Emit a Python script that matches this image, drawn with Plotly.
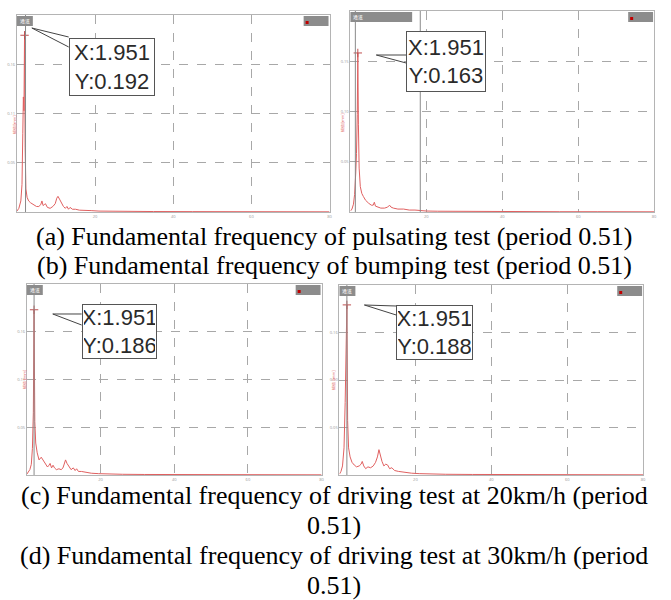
import plotly.graph_objects as go

W, H = 671, 600

# ---------------- data ----------------
freq_a = [0, 0.5, 1.0, 1.3, 1.5, 1.65, 1.8, 1.951, 2.1, 2.3, 2.6, 3.0, 3.5, 4.2, 5.0, 5.6, 6.1, 6.4, 6.7, 7.0, 7.3,
          7.8, 8.5, 9.2, 9.8, 10.2, 10.5, 10.9, 11.3, 11.9, 12.4, 12.8, 13.2, 13.6, 14.2, 15, 16, 17.5, 19, 21, 24,
          28, 35, 45, 55, 65, 80]
amp_a = [0.001, 0.004, 0.012, 0.03, 0.085, 0.125, 0.11, 0.192, 0.07, 0.025, 0.016, 0.012, 0.01, 0.008, 0.006,
         0.006, 0.008, 0.012, 0.007, 0.008, 0.009, 0.005, 0.004, 0.006, 0.009, 0.015, 0.017, 0.014, 0.01, 0.006,
         0.004, 0.006, 0.003, 0.005, 0.003, 0.003, 0.002, 0.002, 0.0015, 0.001, 0.0008, 0.0006, 0.0005, 0.0004,
         0.0003, 0.0003, 0.0002]

freq_b = [0, 0.4, 0.8, 1.1, 1.4, 1.6, 1.8, 1.951, 2.1, 2.3, 2.6, 3.0, 3.4, 4.0, 4.8, 5.5, 6.0, 6.3, 6.6, 7.2, 8.0,
          9.0, 9.8, 10.3, 10.7, 11.3, 12.5, 14, 15.5, 17, 18.4, 20, 23, 28, 35, 45, 55, 65, 80]
amp_b = [0.001, 0.003, 0.008, 0.018, 0.04, 0.06, 0.1, 0.163, 0.09, 0.045, 0.026, 0.019, 0.016, 0.012, 0.009,
         0.007, 0.007, 0.01, 0.006, 0.005, 0.004, 0.004, 0.005, 0.007, 0.005, 0.004, 0.003, 0.003, 0.002, 0.002,
         0.0015, 0.001, 0.0008, 0.0006, 0.0005, 0.0004, 0.0003, 0.0003, 0.0002]

freq_c = [0, 0.4, 0.8, 1.2, 1.5, 1.75, 1.951, 2.15, 2.4, 2.8, 3.3, 3.9, 4.5, 5.1, 5.6, 6.0, 6.3, 6.7, 7.1, 7.5, 8.0,
          8.7, 9.3, 9.8, 10.2, 10.5, 10.9, 11.4, 12.0, 12.6, 13.1, 13.5, 14.0, 14.8, 16, 17.5, 19.5, 22, 26, 32,
          40, 50, 60, 70, 80]
amp_c = [0.001, 0.003, 0.006, 0.012, 0.03, 0.07, 0.186, 0.06, 0.036, 0.025, 0.017, 0.02, 0.016, 0.012, 0.009,
         0.011, 0.013, 0.008, 0.011, 0.008, 0.006, 0.007, 0.006, 0.008, 0.012, 0.017, 0.013, 0.009, 0.006, 0.008,
         0.005, 0.007, 0.004, 0.004, 0.003, 0.002, 0.0015, 0.001, 0.0008, 0.0006, 0.0005, 0.0004, 0.0003, 0.0003,
         0.0002]

freq_d = [0, 0.4, 0.8, 1.2, 1.5, 1.7, 1.951, 2.15, 2.4, 2.8, 3.3, 3.9, 4.5, 5.2, 5.7, 6.0, 6.4, 6.9, 7.5, 8.2, 8.9,
          9.5, 10.0, 10.4, 10.8, 11.2, 11.7, 12.2, 12.7, 13.2, 13.8, 14.5, 15.5, 17, 19, 21, 24, 28, 35, 45, 55,
          65, 80]
amp_d = [0.001, 0.004, 0.01, 0.03, 0.08, 0.115, 0.188, 0.06, 0.03, 0.02, 0.014, 0.011, 0.009, 0.01, 0.012, 0.015,
         0.01, 0.007, 0.009, 0.008, 0.01, 0.014, 0.02, 0.028, 0.02, 0.015, 0.01, 0.012, 0.011, 0.007, 0.008, 0.005,
         0.004, 0.003, 0.002, 0.0015, 0.001, 0.0008, 0.0006, 0.0005, 0.0004, 0.0003, 0.0002]

peak_x = [1.951, 1.951, 1.951, 1.951]
peak_y = [0.192, 0.163, 0.186, 0.188]
cursor_x = [[2.2], [1.3, 18.4], [1.951], [1.951]]
x_ticks = [0, 20, 40, 60, 80]
x_tick_labels = ["0", "20", "40", "60", "80"]

captions_top = ["(a) Fundamental frequency of pulsating test (period 0.51)",
                "(b) Fundamental frequency of bumping test (period 0.51)"]
captions_bottom = ["(c) Fundamental frequency of driving test at 20km/h (period",
                   "0.51)",
                   "(d) Fundamental frequency of driving test at 30km/h (period",
                   "0.51)"]

series = [(freq_a, amp_a), (freq_b, amp_b), (freq_c, amp_c), (freq_d, amp_d)]

# ---------------- layout geometry (pixels) ----------------
panels = [dict(x0=17, x1=331, y0=15, y1=212),
          dict(x0=352, x1=657, y0=11, y1=212),
          dict(x0=27, x1=323, y0=284, y1=475),
          dict(x0=341, x1=646, y0=285, y1=475)]
y_tops = [0.214, 0.206, 0.215, 0.21]
boxes = [dict(x0=69, y0=38, x1=155, y1=96, tip=(32, 28), a1=(69, 37), a2=(69, 47)),
         dict(x0=408, y0=31, x1=488, y1=92, tip=(378, 55), a1=(408, 55), a2=(408, 63)),
         dict(x0=82, y0=304, x1=157, y1=359, tip=(53, 314), a1=(82, 314), a2=(82, 325)),
         dict(x0=398, y0=305, x1=475, y1=360, tip=(366, 305), a1=(398, 306), a2=(398, 315))]


def PX(px):
    return px / W


def PY(py):
    return 1 - py / H


fig = go.Figure()
layout = dict(width=W, height=H, margin=dict(l=0, r=0, t=0, b=0),
              paper_bgcolor="white", plot_bgcolor="white", showlegend=False)
shapes = []
annotations = []

for i, ((fx, fy), p) in enumerate(zip(series, panels)):
    n = "" if i == 0 else str(i + 1)
    xa, ya = "x" + n, "y" + n
    top = y_tops[i]
    layout["xaxis" + n] = dict(domain=[PX(p["x0"]), PX(p["x1"])], range=[0, 80], anchor=ya,
                               tickvals=x_ticks[1:], ticktext=x_tick_labels[1:],
                               showgrid=True, griddash="dash", gridcolor="#a8a8a8", gridwidth=1,
                               showline=True, linecolor="#b4b4b4", linewidth=1, mirror=True,
                               zeroline=False, ticks="", tickfont=dict(size=4, color="#999"))
    yt = [top / 4 * k for k in (1, 2, 3)]
    layout["yaxis" + n] = dict(domain=[PY(p["y1"]), PY(p["y0"])], range=[0, top], anchor=xa,
                               tickvals=yt, ticktext=["%.2f" % v for v in yt],
                               showgrid=True, griddash="dash", gridcolor="#a8a8a8", gridwidth=1,
                               showline=True, linecolor="#b4b4b4", linewidth=1, mirror=True,
                               zeroline=False, ticks="", tickfont=dict(size=4, color="#999"))
    # cursor lines
    for cx in cursor_x[i]:
        shapes.append(dict(type="line", xref=xa, yref=ya + " domain", x0=cx, x1=cx, y0=0, y1=1,
                           line=dict(color="#8a8a8a", width=1)))
    fig.add_trace(go.Scatter(x=fx, y=fy, mode="lines", xaxis=xa, yaxis=ya,
                             line=dict(color="#e06060", width=1)))
    fig.add_trace(go.Scatter(x=[peak_x[i]], y=[peak_y[i]], mode="markers", xaxis=xa, yaxis=ya,
                             marker=dict(symbol="cross-thin", size=6, line=dict(color="#c05050", width=1))))

    # header gray box (top-left) and legend box (top-right)
    hw = 62 if i == 1 else 16
    shapes.append(dict(type="rect", xref="paper", yref="paper", x0=PX(p["x0"]), x1=PX(p["x0"] + hw),
                       y0=PY(p["y0"] + 11), y1=PY(p["y0"] + 1), fillcolor="#8c8c8c", line=dict(width=0)))
    annotations.append(dict(x=PX(p["x0"] + 1), y=PY(p["y0"] + 6), xref="paper", yref="paper",
                            xanchor="left", yanchor="middle", text="通道", showarrow=False,
                            font=dict(size=5, color="white")))
    shapes.append(dict(type="rect", xref="paper", yref="paper", x0=PX(p["x1"] - 26), x1=PX(p["x1"] - 1),
                       y0=PY(p["y0"] + 11), y1=PY(p["y0"] + 1), fillcolor="#8c8c8c", line=dict(width=0)))
    shapes.append(dict(type="rect", xref="paper", yref="paper", x0=PX(p["x1"] - 24), x1=PX(p["x1"] - 21),
                       y0=PY(p["y0"] + 9), y1=PY(p["y0"] + 6), fillcolor="#c00000", line=dict(width=0)))
    # y axis title (tiny red)
    annotations.append(dict(x=PX(p["x0"] - 7), y=PY((p["y0"] + p["y1"]) / 2), xref="paper", yref="paper",
                            text="幅值 [mm]", showarrow=False, textangle=-90,
                            font=dict(size=4, color="#e06060")))
    # callout box
    b = boxes[i]
    annotations.append(dict(x=PX(b["x0"]), y=PY(b["y0"]), xref="paper", yref="paper",
                            xanchor="left", yanchor="top", showarrow=False,
                            text="X:%.3f<br>Y:%.3f" % (peak_x[i], peak_y[i]),
                            width=b["x1"] - b["x0"] - 4, height=b["y1"] - b["y0"] - 4,
                            align="center", valign="middle", borderpad=1,
                            bordercolor="#555", borderwidth=1, bgcolor="white",
                            font=dict(family="Liberation Sans, Arial", size=22, color="#2a2a2a")))
    tx, ty = b["tip"]
    path = "M %f %f L %f %f L %f %f" % (PX(b["a1"][0]), PY(b["a1"][1]), PX(tx), PY(ty),
                                       PX(b["a2"][0]), PY(b["a2"][1]))
    shapes.append(dict(type="path", xref="paper", yref="paper", path=path,
                       line=dict(color="#444", width=1)))

# captions
cap_font = dict(family="Liberation Serif, Times New Roman, serif", size=26, color="black")
for txt, yc in zip(captions_top, [236, 265]):
    annotations.append(dict(x=0.5, y=PY(yc), xref="paper", yref="paper", text=txt, showarrow=False,
                            xanchor="center", yanchor="middle", font=cap_font))
for txt, yc in zip(captions_bottom, [495, 525, 555, 585]):
    annotations.append(dict(x=0.5, y=PY(yc), xref="paper", yref="paper", text=txt, showarrow=False,
                            xanchor="center", yanchor="middle", font=cap_font))

layout["shapes"] = shapes
layout["annotations"] = annotations
fig.update_layout(**layout)
fig.write_html("out.html")
